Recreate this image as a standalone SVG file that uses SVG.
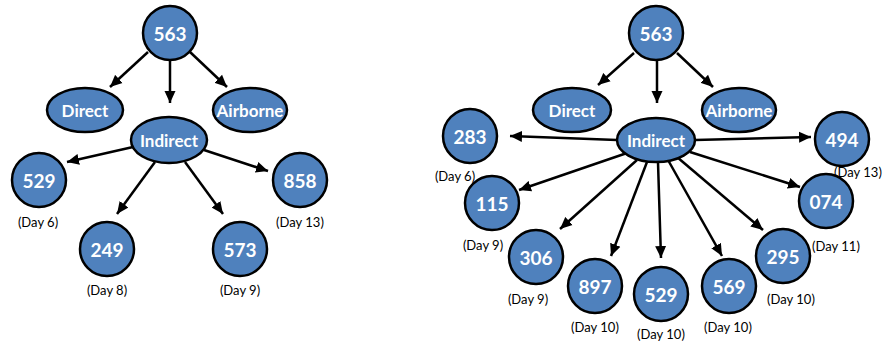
<svg xmlns="http://www.w3.org/2000/svg" width="883" height="343" viewBox="0 0 883 343">
<style>
.n{fill:#4F81BD;stroke:#000;stroke-width:2.5}
.t{font-family:Lato,"Open Sans",sans-serif;font-weight:bold;fill:#fff;text-anchor:middle;dominant-baseline:central}
.num{font-size:19px}
.lbl{font-size:17px}
.day{font-family:Lato,"Open Sans",sans-serif;font-size:13px;fill:#000;text-anchor:middle;dominant-baseline:central}
.c line{stroke:#000;stroke-width:2.5;marker-end:url(#ah)}
</style>
<defs>
<marker id="ah" markerUnits="userSpaceOnUse" markerWidth="14" markerHeight="12" viewBox="0 0 14 12" refX="12" refY="6" orient="auto">
<path d="M0,0.5 L12,6 L0,11.5 Z" fill="#000"/>
</marker>
</defs>
<g id="connectors" class="c">
<line x1="148" y1="52" x2="110" y2="87"/>
<line x1="170" y1="60" x2="170" y2="103"/>
<line x1="190" y1="52" x2="227" y2="87"/>
<line x1="133" y1="147" x2="67" y2="162"/>
<line x1="155" y1="162" x2="117" y2="214"/>
<line x1="185" y1="162" x2="223" y2="214"/>
<line x1="204" y1="150" x2="268" y2="171"/>
<line x1="634" y1="53" x2="598" y2="85"/>
<line x1="657" y1="60" x2="657" y2="103"/>
<line x1="677" y1="53" x2="713" y2="87"/>
<line x1="617" y1="140" x2="510" y2="136"/>
<line x1="695" y1="140" x2="811" y2="137"/>
<line x1="627" y1="153" x2="519" y2="190"/>
<line x1="637" y1="160" x2="560" y2="229"/>
<line x1="647" y1="162" x2="611" y2="256"/>
<line x1="658" y1="162" x2="661" y2="258"/>
<line x1="668" y1="160" x2="722" y2="256"/>
<line x1="677" y1="157" x2="763" y2="230"/>
<line x1="690" y1="152" x2="800" y2="187"/>
</g>
<g id="L563"><circle class="n" cx="170" cy="33" r="27"/><text class="t num" x="170" y="33">563</text></g>
<g id="LDirect"><ellipse class="n" cx="85" cy="110" rx="38" ry="22"/><text class="t lbl" x="85" y="110">Direct</text></g>
<g id="LAirborne"><ellipse class="n" cx="250" cy="110" rx="37" ry="22"/><text class="t lbl" x="250" y="110">Airborne</text></g>
<g id="LIndirect"><ellipse class="n" cx="169" cy="140" rx="38" ry="23"/><text class="t lbl" x="169" y="140">Indirect</text></g>
<g id="L529"><circle class="n" cx="39" cy="180" r="27"/><text class="t num" x="39" y="180">529</text><text class="day" x="38" y="222">(Day 6)</text></g>
<g id="L858"><circle class="n" cx="300" cy="180" r="27"/><text class="t num" x="300" y="180">858</text><text class="day" x="300" y="222">(Day 13)</text></g>
<g id="L249"><circle class="n" cx="107" cy="249" r="27"/><text class="t num" x="107" y="249">249</text><text class="day" x="107" y="290">(Day 8)</text></g>
<g id="L573"><circle class="n" cx="240" cy="249" r="27"/><text class="t num" x="240" y="249">573</text><text class="day" x="240" y="290">(Day 9)</text></g>
<g id="R563"><circle class="n" cx="656" cy="33" r="27"/><text class="t num" x="656" y="33">563</text></g>
<g id="RDirect"><ellipse class="n" cx="572" cy="110" rx="39" ry="22"/><text class="t lbl" x="572" y="110">Direct</text></g>
<g id="RAirborne"><ellipse class="n" cx="739" cy="110" rx="37" ry="22"/><text class="t lbl" x="739" y="110">Airborne</text></g>
<g id="RIndirect"><ellipse class="n" cx="656" cy="140" rx="39" ry="22"/><text class="t lbl" x="656" y="140">Indirect</text></g>
<g id="R283"><circle class="n" cx="470" cy="136" r="27"/><text class="t num" x="470" y="136">283</text><text class="day" x="455" y="176">(Day 6)</text></g>
<g id="R494"><circle class="n" cx="842" cy="139" r="27"/><text class="t num" x="842" y="139">494</text><text class="day" x="858" y="172">(Day 13)</text></g>
<g id="R115"><circle class="n" cx="492" cy="203" r="27"/><text class="t num" x="492" y="203">115</text><text class="day" x="483" y="245">(Day 9)</text></g>
<g id="R306"><circle class="n" cx="536" cy="257" r="27"/><text class="t num" x="536" y="257">306</text><text class="day" x="528" y="299">(Day 9)</text></g>
<g id="R897"><circle class="n" cx="595" cy="286" r="27"/><text class="t num" x="595" y="286">897</text><text class="day" x="595" y="327">(Day 10)</text></g>
<g id="R529"><circle class="n" cx="661" cy="294" r="27"/><text class="t num" x="661" y="294">529</text><text class="day" x="661" y="334">(Day 10)</text></g>
<g id="R569"><circle class="n" cx="729" cy="286" r="27"/><text class="t num" x="729" y="286">569</text><text class="day" x="728" y="327">(Day 10)</text></g>
<g id="R074"><circle class="n" cx="826" cy="201" r="27"/><text class="t num" x="826" y="201">074</text><text class="day" x="836" y="246">(Day 11)</text></g>
<g id="R295"><circle class="n" cx="783" cy="256" r="27"/><text class="t num" x="783" y="256">295</text><text class="day" x="791" y="299">(Day 10)</text></g>
</svg>
